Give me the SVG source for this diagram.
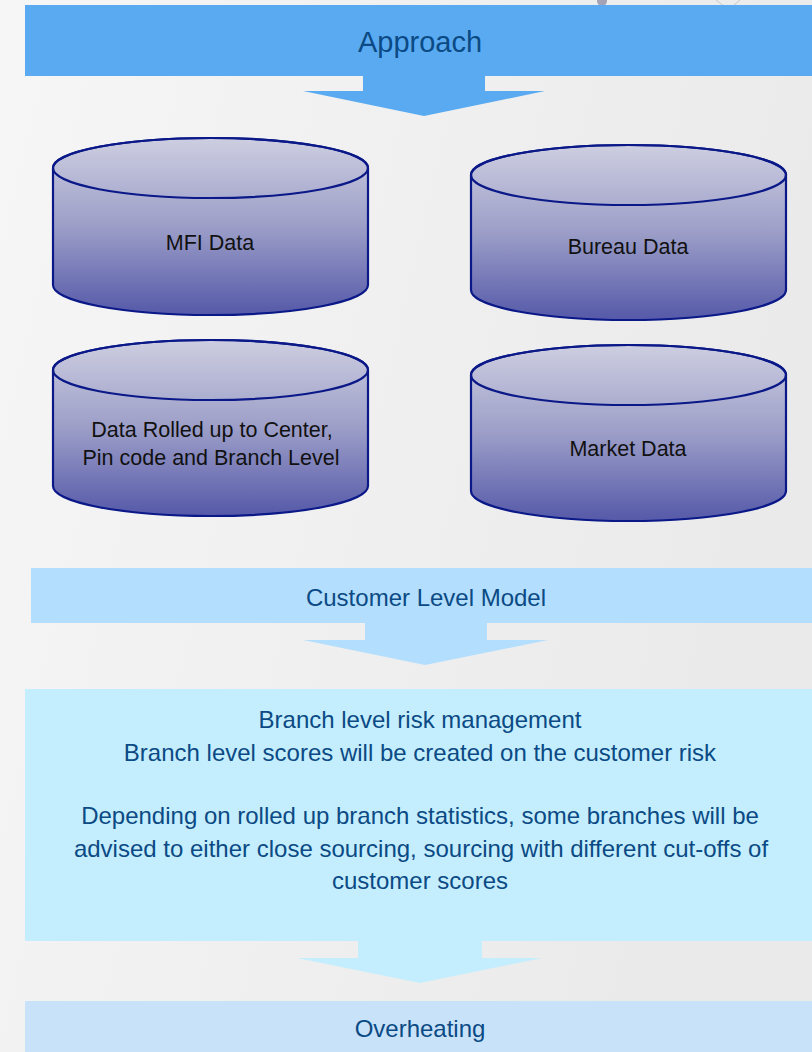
<svg xmlns="http://www.w3.org/2000/svg" width="812" height="1052" viewBox="0 0 812 1052">
<defs>
<linearGradient id="bg" x1="0" y1="0" x2="1" y2="0.3">
<stop offset="0" stop-color="#f6f6f6"/>
<stop offset="1" stop-color="#eaeaea"/>
</linearGradient>
<linearGradient id="cyl" x1="0" y1="0" x2="0" y2="1">
<stop offset="0" stop-color="#cdcee0"/>
<stop offset="0.5" stop-color="#9c9ec8"/>
<stop offset="1" stop-color="#5559a8"/>
</linearGradient>
<style>
.cyl{fill:url(#cyl);stroke:#0a1888;stroke-width:2.2}
.ct{font-family:"Liberation Sans",Arial,sans-serif;font-size:21.5px;fill:#111;text-anchor:middle}
.bt{font-family:"Liberation Sans",Arial,sans-serif;fill:#0b4a84;text-anchor:middle}
</style>
</defs>
<rect width="812" height="1052" fill="url(#bg)"/>
<circle cx="602" cy="1" r="5" fill="#a3a3b5"/>
<path d="M716 0 L724 6 M740 0 L733 6" stroke="#c8c8c8" fill="none"/>

<g id="connectors">
<polygon points="363,76 485,76 485,91 545,91 424,116 303,91 363,91" fill="#5aaaf2"/>
<polygon points="365,623 487,623 487,640 548,640 425,665 303,640 365,640" fill="#b3defd"/>
<polygon points="358,941 482,941 482,958 542,958 420,983 297,958 358,958" fill="#c4eefe"/>
</g>

<g id="approach">
<rect x="25" y="5" width="787" height="71" fill="#5aaaf2"/>
<text class="bt" x="420" y="52" font-size="29">Approach</text>
</g>

<g id="mfi">
<path class="cyl" d="M53,168 V285 A157.5,30 0 0 0 368,285 V168 A157.5,30 0 0 0 53,168 Z"/>
<ellipse class="cyl" cx="210.5" cy="168" rx="157.5" ry="30" style="fill:none"/>
<text class="ct" x="210" y="250">MFI Data</text>
</g>

<g id="bureau">
<path class="cyl" d="M471,175 V290 A157.5,30 0 0 0 786,290 V175 A157.5,30 0 0 0 471,175 Z"/>
<ellipse class="cyl" cx="628.5" cy="175" rx="157.5" ry="30" style="fill:none"/>
<text class="ct" x="628" y="254">Bureau Data</text>
</g>

<g id="rolled">
<path class="cyl" d="M53,370 V486 A157.5,30 0 0 0 368,486 V370 A157.5,30 0 0 0 53,370 Z"/>
<ellipse class="cyl" cx="210.5" cy="370" rx="157.5" ry="30" style="fill:none"/>
<text class="ct" x="212" y="437">Data Rolled up to Center,</text>
<text class="ct" x="211" y="465">Pin code and Branch Level</text>
</g>

<g id="market">
<path class="cyl" d="M471,375 V491 A157.5,30 0 0 0 786,491 V375 A157.5,30 0 0 0 471,375 Z"/>
<ellipse class="cyl" cx="628.5" cy="375" rx="157.5" ry="30" style="fill:none"/>
<text class="ct" x="628" y="456">Market Data</text>
</g>

<g id="customer">
<rect x="31" y="568" width="781" height="55" fill="#b3defd"/>
<text class="bt" x="426" y="606" font-size="24">Customer Level Model</text>
</g>

<g id="branch">
<rect x="25" y="689" width="787" height="252" fill="#c4eefe"/>
<g class="bt" font-size="24">
<text x="420" y="728">Branch level risk management</text>
<text x="420" y="761">Branch level scores will be created on the customer risk</text>
<text x="420" y="824">Depending on rolled up branch statistics, some branches will be</text>
<text x="421" y="857">advised to either close sourcing, sourcing with different cut-offs of</text>
<text x="420" y="889">customer scores</text>
</g>
</g>

<g id="overheating">
<rect x="25" y="1001" width="787" height="51" fill="#c8e2f9"/>
<text class="bt" x="420" y="1037" font-size="24">Overheating</text>
</g>
</svg>
